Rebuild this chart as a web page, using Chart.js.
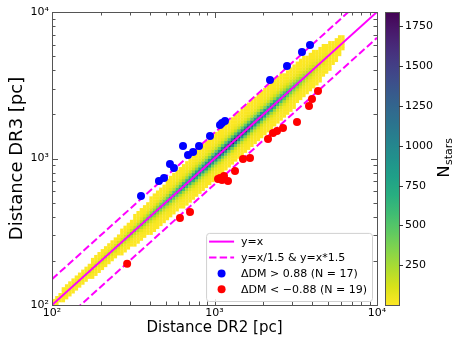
<!DOCTYPE html>
<html><head><meta charset="utf-8">
<script src="https://cdn.jsdelivr.net/npm/chart.js@4/dist/chart.umd.min.js"></script>
<style>html,body{margin:0;padding:0;background:#fff}#wrap{width:463px;height:348px;position:relative}</style>
</head><body><div id="wrap"><canvas id="c" width="463" height="348"></canvas></div>
<script>
// ---------- data ----------
const blueDR2 = [353,455,489,532,563,640,687,738,803,938,1081,1112,1160,2196,2793,3454,3870];
const blueDR3 = [555,702,736,917,861,1217,1057,1107,1217,1425,1693,1747,1803,3434,4278,5333,5953];
const redDR2 = [290,613,707,1051,1081,1112,1144,1211,1337,1497,1654,2134,2291,2425,2640,3219,3816,3981,4335];
const redDR3 = [191,392,431,724,736,713,760,702,822,993,1008,1359,1494,1541,1616,1775,2282,2548,2889];

// 2D histogram of DR2 vs DR3 distances: per DR2 distance, count on the diagonal
// and how far (dex) above / below the diagonal the populated cells reach
const densDR2 = [100,126,158,200,251,316,398,501,631,794,1000,1259,1585,1995,2512,3162,3981,5012,6310];
const densPeak = [30,60,120,200,300,420,560,750,1000,1300,1600,1840,1700,1400,1000,600,250,80,8];
const densUpper = [0.03,0.04,0.05,0.06,0.07,0.09,0.11,0.13,0.14,0.15,0.15,0.15,0.15,0.15,0.15,0.14,0.12,0.08,0.04];
const densLower = [0.03,0.04,0.05,0.06,0.07,0.09,0.11,0.12,0.13,0.14,0.14,0.14,0.14,0.14,0.14,0.13,0.12,0.10,0.04];
const binDex = 0.02;

const lineFactors = [1, 1/1.5, 1.5];
const axisMajor = [100, 1000, 10000];
const axisMajorLabels = ['10\u00B2', '10\u00B3', '10\u2074'];
const cbTicks = [250,500,750,1000,1250,1500,1750];
const cbMin = 1, cbMax = 1840;
const legendLabels = ['y=x', 'y=x/1.5 & y=x*1.5', '\u0394DM > 0.88 (N = 17)', '\u0394DM < \u22120.88 (N = 19)'];
const xTitle = 'Distance DR2 [pc]';
const yTitle = 'Distance DR3 [pc]';
const cbTitleMain = 'N', cbTitleSub = 'stars';

// ---------- helpers ----------
const VIR = ['#440154','#48186a','#472d7b','#424086','#3b528b','#33638d','#2c728e','#26828e','#21918c','#1fa088','#28ae80','#3fbc73','#5ec962','#84d44b','#addc30','#d8e219','#fde725'];
function hex2rgb(h){return [parseInt(h.slice(1,3),16),parseInt(h.slice(3,5),16),parseInt(h.slice(5,7),16)];}
const VIRRGB = VIR.map(hex2rgb);
function viridis(t){
  t = Math.max(0, Math.min(1, t));
  const f = t*(VIRRGB.length-1), i = Math.min(Math.floor(f), VIRRGB.length-2), r = f - i;
  const a = VIRRGB[i], b = VIRRGB[i+1];
  return 'rgb(' + a.map((v,k)=>Math.round(v+(b[k]-v)*r)).join(',') + ')';
}
function countColor(v){ return viridis(1 - (v - cbMin)/(cbMax - cbMin)); }

function interpAt(lx, arr, logy){
  const la = densDR2.map(Math.log10);
  if (lx <= la[0]) return arr[0];
  for (let i=0;i<la.length-1;i++){
    if (lx <= la[i+1]){
      const r = (lx-la[i])/(la[i+1]-la[i]);
      if (logy) return Math.pow(10, Math.log10(arr[i]) + r*(Math.log10(arr[i+1])-Math.log10(arr[i])));
      return arr[i] + r*(arr[i+1]-arr[i]);
    }
  }
  return arr[arr.length-1];
}
// build histogram cells
const histCells = [];
const P = 1.3;
for (let i=0;i<100;i++){
  const lx = 2 + binDex*(i+0.5);
  if (lx > Math.log10(densDR2[densDR2.length-1])) break;
  const peak = interpAt(lx, densPeak, true);
  const up = interpAt(lx, densUpper, false), lo = interpAt(lx, densLower, false);
  for (let k=-12;k<=12;k++){
    const d = k*binDex;
    const E = d >= 0 ? up : lo;
    const s = E/Math.pow(Math.log(Math.max(peak,1.5)), 1/P);
    const c = Math.round(peak*Math.exp(-Math.pow(Math.abs(d)/s, P)));
    const ly = lx + d;
    if (c >= 1 && ly > 2 && ly < 4) histCells.push({x: Math.pow(10,lx), y: Math.pow(10,ly), v: Math.min(c, cbMax)});
  }
}

const MAG = '#ff00ff';
function lineData(f){ return [{x:100,y:100*f},{x:10000,y:10000*f}]; }

// ---------- plugins ----------
const decor = {
  id: 'decor',
  afterDatasetsDraw(chart){
    const {ctx, chartArea:a, scales:{x,y}} = chart;
    ctx.save();
    ctx.strokeStyle = '#555'; ctx.lineWidth = 1;
    const ticks = [];
    for (const d of [100,1000]) for (let m=2;m<=9;m++) ticks.push([m*d,false]);
    axisMajor.forEach(v=>ticks.push([v,true]));
    ctx.beginPath();
    for (const [v,maj] of ticks){
      const L = maj ? 6 : 3.5;
      const px = Math.round(x.getPixelForValue(v))+0.5;
      ctx.moveTo(px, a.bottom); ctx.lineTo(px, a.bottom-L);
      ctx.moveTo(px, a.top); ctx.lineTo(px, a.top+L);
      const py = Math.round(y.getPixelForValue(v))+0.5;
      ctx.moveTo(a.left, py); ctx.lineTo(a.left+L, py);
      ctx.moveTo(a.right, py); ctx.lineTo(a.right-L, py);
    }
    ctx.stroke();
    ctx.strokeRect(Math.round(a.left)+0.5, Math.round(a.top)+0.5, Math.round(a.right-a.left), Math.round(a.bottom-a.top));
    ctx.restore();
  },
  afterDraw(chart){
    const {ctx, chartArea:a} = chart;
    const cb = chart.scales.cb;
    ctx.save();
    // colorbar
    const x0 = a.right + 8, w = 14;
    const yT = cb.getPixelForValue(cbMax), yB = cb.getPixelForValue(cbMin);
    const g = ctx.createLinearGradient(0, yB, 0, yT);
    for (let i=0;i<=32;i++){ const t=i/32; g.addColorStop(t, viridis(1-t)); }
    ctx.fillStyle = g; ctx.fillRect(x0, yT, w, yB-yT);
    ctx.strokeStyle = '#555'; ctx.lineWidth = 1;
    ctx.strokeRect(x0+0.5, Math.round(yT)+0.5, w, Math.round(yB-yT));
    ctx.beginPath();
    cbTicks.forEach(v=>{ const py = Math.round(cb.getPixelForValue(v))+0.5; ctx.moveTo(x0+w, py); ctx.lineTo(x0+w+4, py); });
    ctx.strokeStyle = '#333'; ctx.stroke();
    // colorbar title N_stars (rotated)
    ctx.fillStyle = '#000';
    ctx.translate(449, (a.top+a.bottom)/2 + 19);
    ctx.rotate(-Math.PI/2);
    ctx.textBaseline = 'alphabetic'; ctx.textAlign = 'left';
    ctx.font = '16px "DejaVu Sans"';
    ctx.fillText(cbTitleMain, 0, 0);
    const wN = ctx.measureText(cbTitleMain).width;
    ctx.font = '11px "DejaVu Sans"';
    ctx.fillText(cbTitleSub, wN + 0.5, 2.5);
    ctx.restore();

    // legend
    ctx.save();
    ctx.font = '11px "DejaVu Sans"';
    const tw = Math.max(...legendLabels.map(s=>ctx.measureText(s).width));
    const rowH = 15.9, pad = 3, handle = 25, gap = 7;
    const bw = pad + handle + gap + tw + 5, bh = 4*rowH + 4.5;
    const bx = a.right - 5 - bw, by = a.bottom - 4 - bh;
    ctx.beginPath();
    if (ctx.roundRect) ctx.roundRect(bx+0.5, by+0.5, bw, bh, 3); else ctx.rect(bx+0.5, by+0.5, bw, bh);
    ctx.fillStyle = 'rgba(255,255,255,0.85)'; ctx.fill();
    ctx.strokeStyle = '#d0d0d0'; ctx.lineWidth = 1; ctx.stroke();
    const hx0 = bx + pad, hx1 = hx0 + handle, tx = hx1 + gap;
    legendLabels.forEach((lab, i)=>{
      const cy = by + 8.7 + i*rowH;
      ctx.setLineDash([]);
      if (i < 2){
        ctx.strokeStyle = MAG; ctx.lineWidth = 2;
        if (i === 1) ctx.setLineDash([7.4,3.2]);
        ctx.beginPath(); ctx.moveTo(hx0, cy); ctx.lineTo(hx1, cy); ctx.stroke();
      } else {
        ctx.fillStyle = i === 2 ? '#0000ff' : '#ff0000';
        ctx.beginPath(); ctx.arc((hx0+hx1)/2, cy, 4, 0, 2*Math.PI); ctx.fill();
      }
      ctx.fillStyle = '#000'; ctx.textBaseline = 'middle'; ctx.textAlign = 'left';
      ctx.fillText(lab, tx, cy+0.5);
    });
    ctx.restore();
  }
};

function majorLabel(v){
  for (let i=0;i<axisMajor.length;i++) if (Math.abs(v-axisMajor[i])/axisMajor[i] < 1e-6) return axisMajorLabels[i];
  return '';
}
function noPad(s){ s.paddingTop = 0; s.paddingBottom = 0; }

const FONT = '"DejaVu Sans"';
new Chart(document.getElementById('c'), {
  type: 'scatter',
  data: {
    datasets: [
      {label: legendLabels[2], data: blueDR2.map((v,i)=>({x:v,y:blueDR3[i]})), backgroundColor:'#0000ff', borderWidth:0, pointRadius:4, order:1},
      {label: legendLabels[3], data: redDR2.map((v,i)=>({x:v,y:redDR3[i]})), backgroundColor:'#ff0000', borderWidth:0, pointRadius:4, order:1},
      {label: legendLabels[0], type:'line', data: lineData(lineFactors[0]), borderColor:MAG, borderWidth:2, pointRadius:0, fill:false, order:2},
      {label: 'y=x/1.5', type:'line', data: lineData(lineFactors[1]), borderColor:MAG, borderWidth:2, borderDash:[7.4,3.2], pointRadius:0, fill:false, order:2},
      {label: 'y=x*1.5', type:'line', data: lineData(lineFactors[2]), borderColor:MAG, borderWidth:2, borderDash:[7.4,3.2], pointRadius:0, fill:false, order:2},
      {label: 'N stars', data: histCells, pointStyle:'rect', borderWidth:0, order:3,
        backgroundColor: (c)=> c.raw ? countColor(c.raw.v) : '#fde725',
        pointRadius: (c)=>{ const s=c.chart.scales.x; const w=Math.abs(s.getPixelForValue(100*Math.pow(10,binDex))-s.getPixelForValue(100)); return (w+0.15)/Math.SQRT2; },
        pointHoverRadius: 0}
    ]
  },
  options: {
    responsive:false, animation:false, events:[],
    layout:{padding:{top:12,left:0,right:0,bottom:0}},
    plugins:{legend:{display:false}, tooltip:{enabled:false}},
    scales:{
      x:{type:'logarithmic', min:100, max:10000, position:'bottom',
        grid:{display:false, drawTicks:false}, border:{display:false},
        ticks:{autoSkip:false, maxRotation:0, minRotation:0, padding:2, color:'#000', font:{family:FONT,size:11}, callback:(v)=>majorLabel(v)},
        title:{display:true, text:xTitle, color:'#000', font:{family:FONT,size:15}, padding:{top:0,bottom:11}},
        afterFit:(s)=>{s.height=43;}},
      y:{type:'logarithmic', min:100, max:10000, position:'left',
        grid:{display:false, drawTicks:false}, border:{display:false},
        ticks:{autoSkip:false, padding:3, color:'#000', font:{family:FONT,size:11}, callback:(v)=>majorLabel(v)},
        title:{display:true, text:yTitle, color:'#000', font:{family:FONT,size:18}, padding:{top:7,bottom:0}},
        afterFit:(s)=>{s.width=52; noPad(s);}},
      cb:{type:'linear', min:cbMin, max:cbMax, position:'right',
        grid:{display:false, drawTicks:false}, border:{display:false},
        ticks:{padding:28, color:'#000', font:{family:FONT,size:11}, callback:(v)=>String(v)},
        afterBuildTicks:(s)=>{ s.ticks = cbTicks.map(v=>({value:v})); },
        afterFit:(s)=>{s.width=86; noPad(s);}}
    }
  },
  plugins:[decor]
});
</script></body></html>
